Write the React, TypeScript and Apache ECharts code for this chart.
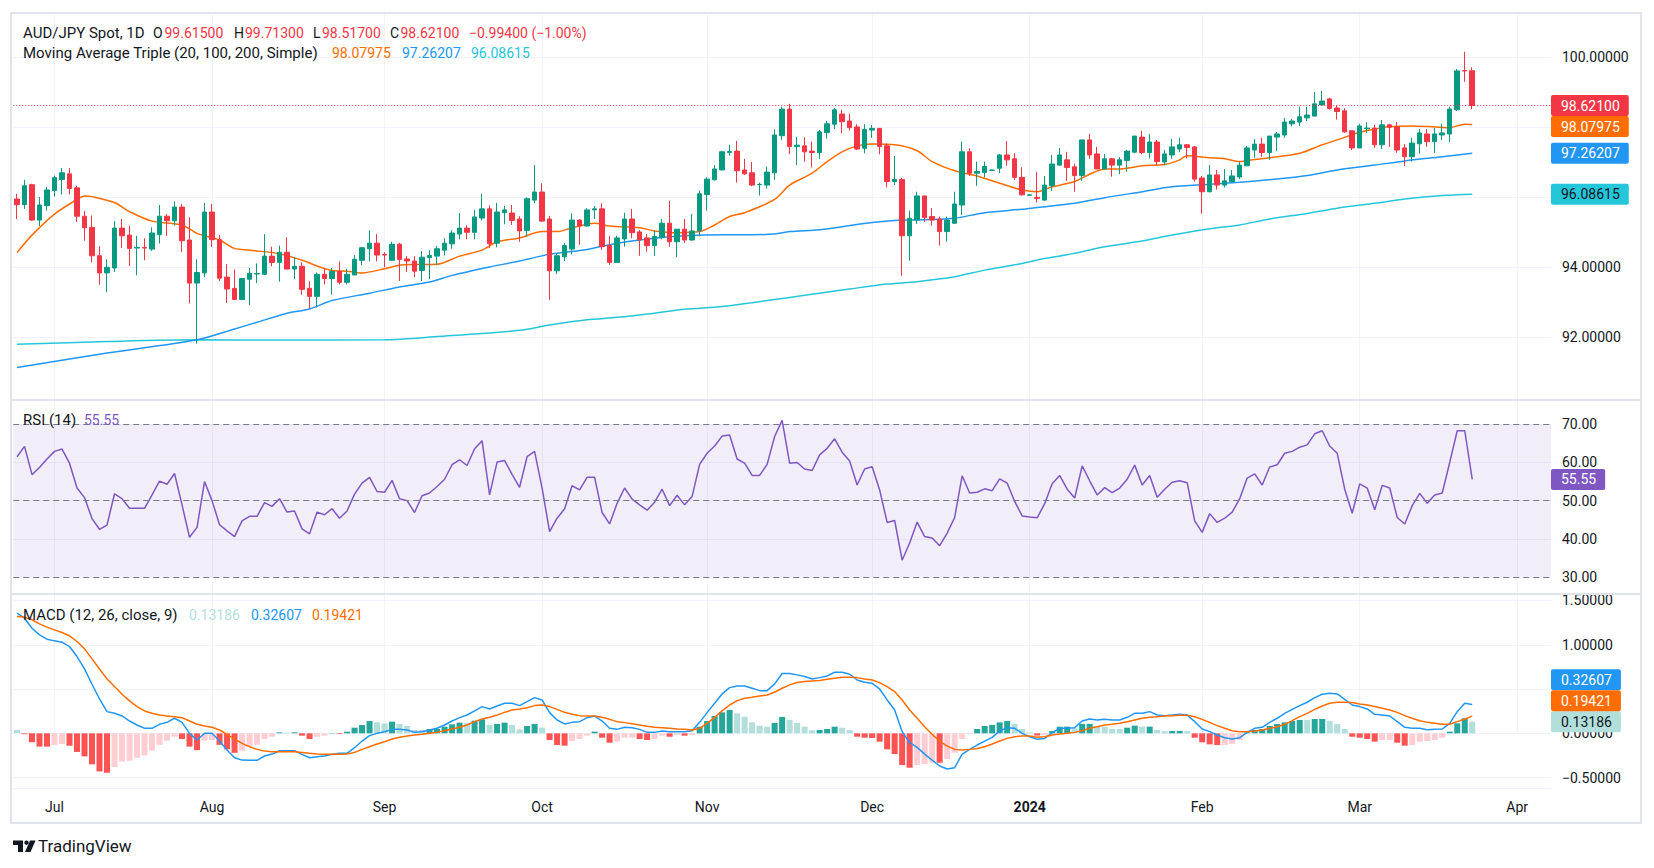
import React, { useEffect, useRef } from "react";
import * as echarts from "echarts";

const FONT = 'Roboto, "Noto Sans", sans-serif';
const TOTAL_CATEGORIES = 205;
const START_DATE = [2023, 5, 26];
const MONTHS = ["Jan", "Feb", "Mar", "Apr", "May", "Jun", "Jul", "Aug", "Sep", "Oct", "Nov", "Dec"];

const opens = [
  95.95, 95.79, 96.36, 95.35, 95.76, 96.19, 96.51, 96.67, 96.27, 95.46,
  95.14, 94.33, 93.84, 93.98, 95.12, 94.92, 94.55, 94.57, 94.52, 94.93,
  95.46, 95.33, 95.72, 94.78, 93.55, 93.84, 95.58, 94.79, 93.72, 93.4,
  93.08, 93.66, 93.81, 93.8, 94.32, 94.14, 94.43, 93.95, 94.03, 93.4,
  93.17, 93.8, 93.68, 93.88, 93.57, 93.78, 94.2, 94.53, 94.69, 94.37,
  94.2, 94.66, 94.24, 94.18, 93.91, 94.28, 94.32, 94.49, 94.67, 94.95,
  95.12, 95.0, 95.41, 95.67, 94.69, 95.56, 95.55, 95.38, 95.05, 95.92,
  96.15, 95.38, 93.9, 94.3, 94.52, 95.35, 95.18, 95.64, 95.67, 94.62,
  94.14, 94.81, 95.38, 95.01, 94.84, 94.62, 94.86, 95.26, 94.73, 95.09,
  94.78, 95.04, 96.08, 96.5, 96.78, 97.28, 97.32, 96.78, 96.7, 96.36,
  96.35, 96.7, 97.76, 98.52, 97.45, 97.47, 97.32, 97.28, 97.85, 98.09,
  98.38, 98.18, 98.01, 97.4, 97.92, 97.97, 97.47, 96.45, 96.51, 94.9,
  95.35, 96.04, 95.45, 95.38, 95.02, 95.26, 95.78, 97.3, 96.69, 96.71,
  96.77, 96.83, 97.21, 97.1, 96.57, 96.06, 96.0, 95.92, 96.33, 96.92,
  97.07, 96.87, 96.62, 97.64, 97.24, 96.81, 97.1, 96.92, 97.05, 97.29,
  97.72, 97.28, 97.58, 97.01, 97.21, 97.38, 97.5, 97.44, 96.55, 96.16,
  96.64, 96.35, 96.45, 96.58, 96.9, 97.35, 97.52, 97.28, 97.72, 97.78,
  98.1, 98.15, 98.27, 98.32, 98.64, 98.81, 98.55, 98.47, 97.9, 97.41,
  97.96, 97.98, 97.5, 98.07, 98.01, 97.41, 97.16, 97.53, 97.81, 97.59,
  97.78, 97.81, 98.5, 99.62, 99.615,
];

const closes = [
  95.79, 96.33, 95.35, 95.78, 96.21, 96.56, 96.7, 96.25, 95.46, 95.13,
  94.33, 93.84, 94.0, 95.12, 94.9, 94.54, 94.57, 94.55, 94.98, 95.46,
  95.33, 95.72, 94.76, 93.55, 93.85, 95.58, 94.79, 93.69, 93.38, 93.08,
  93.68, 93.83, 93.82, 94.32, 94.14, 94.43, 93.95, 94.03, 93.37, 93.17,
  93.8, 93.68, 93.88, 93.57, 93.8, 94.23, 94.56, 94.69, 94.35, 94.35,
  94.66, 94.22, 94.18, 93.89, 94.29, 94.34, 94.53, 94.69, 94.98, 95.12,
  95.0, 95.44, 95.67, 94.67, 95.58, 95.64, 95.34, 95.04, 95.96, 96.15,
  95.32, 93.9, 94.33, 94.62, 95.35, 95.18, 95.64, 95.67, 94.59, 94.14,
  94.84, 95.38, 94.99, 94.78, 94.62, 94.88, 95.26, 94.73, 95.09, 94.78,
  95.04, 96.1, 96.52, 96.81, 97.3, 97.31, 96.76, 96.67, 96.35, 96.37,
  96.72, 97.78, 98.52, 97.45, 97.49, 97.3, 97.28, 97.87, 98.1, 98.5,
  98.16, 97.99, 97.38, 97.94, 97.97, 97.45, 96.45, 96.51, 94.9, 95.4,
  96.04, 95.42, 95.35, 95.02, 95.35, 95.81, 97.3, 96.69, 96.74, 96.88,
  96.78, 97.21, 97.07, 96.57, 96.07, 96.07, 95.97, 96.35, 96.95, 97.21,
  96.85, 96.62, 97.64, 97.21, 96.81, 97.1, 96.92, 97.07, 97.32, 97.75,
  97.28, 97.58, 97.02, 97.24, 97.44, 97.5, 97.42, 96.52, 96.16, 96.64,
  96.35, 96.47, 96.61, 96.92, 97.41, 97.52, 97.28, 97.75, 97.81, 98.15,
  98.18, 98.3, 98.35, 98.67, 98.75, 98.54, 98.45, 97.87, 97.41, 98.04,
  97.98, 97.5, 98.07, 98.0, 97.35, 97.16, 97.55, 97.84, 97.59, 97.81,
  97.84, 98.52, 99.61, 99.61, 98.621,
];

const highs = [
  96.1, 96.5, 96.39, 96.01, 96.3, 96.62, 96.84, 96.84, 96.33, 95.61,
  95.48, 94.6, 94.23, 95.32, 95.38, 95.18, 94.9, 94.83, 95.14, 95.78,
  95.52, 95.88, 95.81, 95.43, 94.23, 95.84, 95.81, 94.92, 94.09, 93.94,
  93.69, 93.98, 94.11, 94.95, 94.59, 94.62, 94.86, 94.29, 94.14, 93.6,
  93.85, 93.96, 93.98, 94.17, 93.96, 94.35, 94.58, 95.06, 94.95, 94.43,
  94.73, 94.7, 94.32, 94.32, 94.46, 94.49, 94.61, 94.83, 95.06, 95.55,
  95.2, 95.64, 96.1, 95.77, 95.84, 95.76, 95.78, 95.46, 96.0, 96.92,
  96.4, 95.47, 94.4, 94.69, 95.54, 95.37, 95.69, 95.75, 95.83, 94.9,
  94.9, 95.56, 95.67, 95.07, 94.95, 95.04, 95.38, 95.9, 95.09, 95.38,
  95.52, 96.19, 96.57, 96.92, 97.33, 97.5, 97.61, 97.1, 97.01, 96.42,
  96.88, 97.94, 98.59, 98.67, 97.73, 97.72, 97.59, 97.92, 98.18, 98.56,
  98.5, 98.38, 98.09, 98.09, 98.07, 97.97, 97.54, 97.18, 96.56, 95.62,
  96.16, 96.04, 95.69, 95.45, 95.45, 96.16, 97.59, 97.4, 97.02, 97.02,
  96.79, 97.24, 97.61, 97.26, 96.86, 96.08, 96.73, 96.61, 97.21, 97.41,
  97.3, 96.96, 97.64, 97.81, 97.44, 97.24, 97.13, 97.15, 97.35, 97.75,
  97.9, 97.81, 97.64, 97.35, 97.67, 97.7, 97.52, 97.47, 96.61, 96.92,
  96.78, 96.81, 96.78, 97.02, 97.47, 97.67, 97.7, 97.75, 97.87, 98.27,
  98.24, 98.59, 98.59, 99.01, 99.04, 98.84, 98.64, 98.55, 97.9, 98.1,
  98.15, 98.07, 98.21, 98.1, 98.15, 97.52, 97.7, 97.95, 97.95, 97.98,
  98.1, 98.59, 99.67, 100.16, 99.713,
];

const lows = [
  95.38, 95.67, 95.33, 95.18, 95.62, 96.02, 96.08, 96.08, 95.3, 94.76,
  94.14, 93.5, 93.29, 93.87, 94.55, 94.04, 93.77, 94.2, 94.47, 94.68,
  94.9, 95.19, 94.44, 92.97, 91.82, 93.72, 94.58, 93.61, 92.98, 93.06,
  93.06, 92.92, 93.55, 93.78, 94.03, 93.59, 93.95, 93.66, 93.22, 92.82,
  92.85, 93.51, 93.22, 93.51, 93.51, 93.78, 94.06, 94.17, 94.17, 94.0,
  94.2, 93.61, 93.87, 93.72, 93.61, 93.66, 94.06, 94.34, 94.53, 94.8,
  94.8, 94.8, 95.34, 94.55, 94.57, 95.23, 95.21, 94.73, 94.88, 95.83,
  95.3, 93.07, 93.81, 94.18, 94.37, 94.64, 95.16, 95.38, 94.5, 94.07,
  94.14, 94.59, 94.83, 94.33, 94.45, 94.33, 94.8, 94.59, 94.29, 94.7,
  94.76, 94.88, 95.62, 96.48, 96.78, 97.19, 96.42, 96.64, 96.32, 96.05,
  96.25, 96.5, 97.64, 97.24, 96.92, 97.02, 96.85, 97.1, 97.68, 97.95,
  97.83, 97.9, 97.35, 97.26, 97.7, 97.23, 96.28, 96.35, 93.76, 94.19,
  95.24, 95.3, 95.19, 94.62, 94.73, 95.24, 95.5, 96.61, 96.33, 96.57,
  96.76, 96.69, 96.9, 96.5, 96.05, 96.05, 95.85, 95.9, 96.18, 96.9,
  96.47, 96.16, 96.47, 97.1, 96.81, 96.79, 96.59, 96.66, 96.73, 97.26,
  97.23, 97.11, 96.92, 96.92, 97.1, 97.29, 97.11, 96.45, 95.53, 96.14,
  96.22, 96.28, 96.45, 96.52, 96.9, 97.13, 97.16, 97.07, 97.32, 97.7,
  98.03, 98.04, 98.18, 98.32, 98.61, 98.51, 98.22, 97.84, 97.35, 97.41,
  97.84, 97.41, 97.38, 97.44, 97.27, 96.9, 97.02, 97.25, 97.44, 97.27,
  97.64, 97.58, 98.47, 99.3, 98.517,
];

// [bar index, value]
const ma20Points = [
  [0, 94.42], [2, 94.92], [5, 95.52], [8, 95.94], [9, 96.04], [10, 96.02], [13, 95.85], [15, 95.59],
  [18, 95.32], [22, 95.21], [24, 94.97], [27, 94.78], [29, 94.54], [31, 94.49], [35, 94.39], [38, 94.2],
  [42, 93.91], [44, 93.89], [46, 93.84], [49, 93.96], [51, 94.06], [53, 94.08], [56, 94.09], [59, 94.32],
  [62, 94.49], [64, 94.73], [67, 94.84], [70, 95.02], [72, 95.02], [74, 95.13], [77, 95.26], [79, 95.18],
  [83, 95.13], [85, 95.04], [88, 94.99], [91, 95.02], [93, 95.21], [95, 95.45], [97, 95.56], [101, 95.94],
  [103, 96.35], [106, 96.69], [108, 97.02], [110, 97.3], [112, 97.47], [114, 97.52], [117, 97.5], [120, 97.33],
  [122, 97.02], [125, 96.76], [128, 96.61], [131, 96.4], [134, 96.21], [136, 96.16], [138, 96.3], [141, 96.45],
  [143, 96.66], [145, 96.81], [147, 96.81], [150, 96.9], [153, 96.94], [155, 97.07], [156, 97.19], [159, 97.13],
  [161, 97.1], [163, 97.02], [165, 97.08], [167, 97.13], [171, 97.26], [174, 97.5], [176, 97.64], [179, 97.86],
  [181, 97.95], [183, 98.02], [186, 98.04], [189, 98.01], [191, 97.99], [193, 98.09], [194, 98.07975],
];
const ma100Points = [
  [0, 91.14], [12, 91.55], [24, 91.93], [29, 92.24], [32, 92.43], [36, 92.69], [39, 92.81], [42, 93.05],
  [47, 93.26], [51, 93.44], [55, 93.58], [58, 93.77], [63, 94.01], [67, 94.18], [71, 94.37], [76, 94.51],
  [80, 94.69], [85, 94.83], [89, 94.9], [94, 94.93], [98, 94.93], [101, 94.95], [103, 95.02], [107, 95.07],
  [110, 95.16], [114, 95.28], [118, 95.35], [123, 95.37], [125, 95.4], [129, 95.56], [134, 95.66], [136, 95.71],
  [141, 95.83], [145, 95.99], [150, 96.16], [154, 96.3], [159, 96.37], [163, 96.43], [168, 96.52], [172, 96.62],
  [176, 96.78], [181, 96.92], [185, 97.04], [190, 97.16], [194, 97.26207],
];
const ma200Points = [
  [0, 91.8], [12, 91.88], [24, 91.93], [35, 91.92], [49, 91.93], [56, 92.02], [67, 92.2], [71, 92.35],
  [76, 92.5], [80, 92.57], [85, 92.69], [89, 92.8], [94, 92.88], [98, 92.99], [103, 93.14], [107, 93.26],
  [111, 93.38], [116, 93.52], [120, 93.59], [125, 93.73], [129, 93.92], [134, 94.11], [136, 94.21], [141, 94.4],
  [145, 94.59], [150, 94.75], [154, 94.92], [159, 95.1], [163, 95.21], [167, 95.38], [172, 95.54], [176, 95.69],
  [181, 95.83], [185, 95.95], [190, 96.05], [194, 96.08615],
];

const rsi = [
  61.5, 64.2, 56.8, 58.7, 60.9, 62.9, 63.5, 59.8, 53.3, 50.8,
  45.3, 42.5, 43.6, 51.8, 50.5, 48.0, 48.0, 48.0, 51.5, 55.1,
  54.3, 57.1, 48.9, 40.4, 43.0, 55.0, 50.0, 43.7, 42.1, 40.6,
  44.7, 45.9, 45.9, 49.5, 48.5, 50.5, 47.0, 47.3, 42.6, 41.3,
  47.0, 46.3, 47.9, 45.4, 47.3, 51.7, 54.6, 56.1, 52.4, 52.2,
  55.3, 50.5, 50.0, 46.9, 51.3, 52.0, 53.7, 55.6, 59.4, 60.7,
  59.2, 63.6, 65.7, 51.5, 60.1, 60.5, 56.9, 53.5, 61.5, 62.9,
  53.3, 41.9, 45.4, 47.9, 53.9, 52.8, 56.1, 56.1, 46.9, 43.9,
  49.3, 53.3, 50.4, 48.9, 47.5, 49.6, 53.0, 48.7, 51.4, 48.9,
  51.1, 59.5, 62.4, 64.3, 66.9, 67.2, 60.9, 59.8, 56.6, 56.6,
  59.5, 66.8, 71.0, 59.8, 60.0, 58.3, 57.9, 62.0, 63.7, 66.2,
  62.7, 60.4, 54.1, 58.3, 58.9, 52.8, 44.3, 44.8, 34.4, 38.9,
  44.4, 40.6, 40.2, 38.2, 41.5, 45.6, 56.5, 52.0, 52.2, 53.1,
  52.6, 55.7, 54.6, 49.8, 46.0, 45.7, 45.5, 49.2, 54.4, 56.6,
  53.0, 50.7, 59.1, 55.2, 51.5, 53.4, 52.1, 53.3, 55.6, 59.3,
  54.1, 56.6, 50.9, 53.0, 54.8, 55.2, 54.7, 44.7, 41.7, 46.6,
  44.3, 45.4, 47.0, 50.5, 55.9, 57.0, 54.1, 58.8, 59.4, 62.4,
  62.9, 64.0, 64.6, 67.5, 68.3, 64.3, 62.4, 53.0, 46.7, 54.4,
  53.3, 47.6, 54.0, 53.3, 45.6, 43.9, 48.7, 51.9, 49.3, 51.5,
  52.0, 60.0, 68.3, 68.3, 55.55,
];

const macdLine = [
  1.357, 1.3, 1.187, 1.112, 1.063, 1.044, 1.029, 0.98, 0.867, 0.727,
  0.554, 0.388, 0.245, 0.226, 0.196, 0.139, 0.094, 0.057, 0.057, 0.102,
  0.124, 0.17, 0.124, 0.0, -0.075, 0.0, 0.0, -0.087, -0.188, -0.275,
  -0.302, -0.305, -0.305, -0.256, -0.234, -0.196, -0.196, -0.196, -0.237, -0.275,
  -0.264, -0.256, -0.237, -0.226, -0.226, -0.162, -0.087, -0.026, 0.0, 0.019,
  0.045, 0.045, 0.038, 0.011, 0.019, 0.038, 0.057, 0.094, 0.139, 0.177,
  0.207, 0.253, 0.302, 0.275, 0.309, 0.339, 0.339, 0.313, 0.358, 0.403,
  0.377, 0.234, 0.151, 0.106, 0.124, 0.132, 0.177, 0.196, 0.139, 0.057,
  0.045, 0.068, 0.064, 0.045, 0.011, 0.011, 0.026, 0.019, 0.019, 0.019,
  0.03, 0.124, 0.234, 0.339, 0.445, 0.516, 0.535, 0.535, 0.509, 0.482,
  0.482, 0.558, 0.675, 0.675, 0.66, 0.641, 0.614, 0.629, 0.648, 0.69,
  0.69, 0.667, 0.603, 0.577, 0.565, 0.501, 0.377, 0.264, 0.019, -0.106,
  -0.158, -0.234, -0.302, -0.369, -0.403, -0.388, -0.234, -0.181, -0.132, -0.087,
  -0.045, 0.026, 0.064, 0.057, 0.0, -0.038, -0.068, -0.057, 0.008, 0.057,
  0.057, 0.064, 0.139, 0.162, 0.151, 0.158, 0.151, 0.151, 0.181, 0.226,
  0.226, 0.245, 0.207, 0.2, 0.207, 0.215, 0.207, 0.132, 0.049, 0.019,
  -0.019, -0.049, -0.064, -0.049, 0.011, 0.057, 0.068, 0.124, 0.17, 0.226,
  0.271, 0.313, 0.351, 0.403, 0.441, 0.452, 0.445, 0.384, 0.32, 0.302,
  0.275, 0.215, 0.207, 0.196, 0.132, 0.068, 0.057, 0.057, 0.041, 0.045,
  0.049, 0.113, 0.245, 0.339, 0.32607,
];

const signalLine = [
  1.319, 1.312, 1.282, 1.236, 1.199, 1.168, 1.138, 1.101, 1.037, 0.954,
  0.841, 0.727, 0.614, 0.528, 0.441, 0.366, 0.302, 0.253, 0.226, 0.207,
  0.196, 0.188, 0.177, 0.139, 0.102, 0.083, 0.068, 0.038, -0.011, -0.064,
  -0.113, -0.151, -0.181, -0.2, -0.207, -0.207, -0.207, -0.207, -0.215, -0.226,
  -0.234, -0.237, -0.237, -0.237, -0.234, -0.215, -0.181, -0.151, -0.121, -0.094,
  -0.064, -0.045, -0.03, -0.019, -0.011, 0.0, 0.011, 0.03, 0.049, 0.068,
  0.094, 0.132, 0.162, 0.181, 0.207, 0.237, 0.264, 0.275, 0.29, 0.313,
  0.32, 0.302, 0.271, 0.237, 0.215, 0.2, 0.196, 0.196, 0.181, 0.158,
  0.132, 0.121, 0.109, 0.094, 0.079, 0.068, 0.064, 0.057, 0.049, 0.045,
  0.038, 0.057, 0.113, 0.181, 0.253, 0.32, 0.369, 0.396, 0.407, 0.422,
  0.433, 0.464, 0.509, 0.547, 0.573, 0.584, 0.592, 0.596, 0.611, 0.622,
  0.633, 0.633, 0.629, 0.614, 0.603, 0.573, 0.528, 0.471, 0.377, 0.264,
  0.17, 0.075, -0.011, -0.087, -0.143, -0.181, -0.188, -0.181, -0.17, -0.151,
  -0.121, -0.087, -0.057, -0.038, -0.03, -0.03, -0.045, -0.038, -0.019, -0.008,
  0.0, 0.011, 0.03, 0.057, 0.075, 0.094, 0.102, 0.113, 0.132, 0.151,
  0.17, 0.181, 0.188, 0.196, 0.2, 0.204, 0.204, 0.188, 0.158, 0.124,
  0.087, 0.057, 0.03, 0.019, 0.019, 0.026, 0.038, 0.057, 0.075, 0.102,
  0.143, 0.188, 0.226, 0.271, 0.309, 0.339, 0.351, 0.351, 0.347, 0.332,
  0.32, 0.302, 0.283, 0.264, 0.237, 0.2, 0.17, 0.143, 0.124, 0.113,
  0.102, 0.102, 0.132, 0.162, 0.19421,
];

const histogram = [
  0.038, -0.01, -0.1, -0.15, -0.15, -0.13, -0.12, -0.14, -0.21, -0.26,
  -0.35, -0.43, -0.445, -0.38, -0.32, -0.31, -0.275, -0.25, -0.196, -0.13,
  -0.083, -0.038, -0.064, -0.15, -0.19, -0.083, -0.075, -0.13, -0.18, -0.22,
  -0.196, -0.14, -0.13, -0.064, -0.038, 0.011, 0.008, 0.011, -0.026, -0.064,
  -0.038, -0.026, 0.004, -0.008, 0.019, 0.064, 0.094, 0.139, 0.124, 0.113,
  0.132, 0.106, 0.083, 0.038, 0.038, 0.049, 0.05, 0.075, 0.102, 0.121,
  0.118, 0.143, 0.158, 0.094, 0.106, 0.121, 0.094, 0.045, 0.083, 0.106,
  0.064, -0.075, -0.132, -0.139, -0.087, -0.064, -0.026, 0.019, -0.049, -0.106,
  -0.094, -0.049, -0.048, -0.064, -0.075, -0.064, -0.026, -0.038, -0.019, -0.026,
  -0.019, 0.075, 0.139, 0.196, 0.237, 0.264, 0.226, 0.188, 0.124, 0.087,
  0.075, 0.117, 0.185, 0.151, 0.117, 0.075, 0.034, 0.038, 0.049, 0.075,
  0.064, 0.038, -0.038, -0.049, -0.052, -0.094, -0.181, -0.234, -0.358, -0.388,
  -0.358, -0.347, -0.332, -0.332, -0.29, -0.219, -0.064, -0.008, 0.049, 0.083,
  0.094, 0.124, 0.139, 0.106, 0.049, 0.011, -0.025, -0.02, 0.026, 0.075,
  0.076, 0.057, 0.106, 0.107, 0.075, 0.075, 0.049, 0.049, 0.064, 0.087,
  0.075, 0.076, 0.038, 0.026, 0.027, 0.028, 0.026, -0.049, -0.102, -0.124,
  -0.132, -0.131, -0.121, -0.075, 0.011, 0.038, 0.049, 0.083, 0.106, 0.124,
  0.139, 0.151, 0.15, 0.162, 0.163, 0.139, 0.106, 0.049, -0.038, -0.049,
  -0.064, -0.094, -0.075, -0.074, -0.106, -0.139, -0.132, -0.094, -0.087, -0.075,
  -0.049, 0.019, 0.113, 0.17, 0.13186,
];

const N = closes.length;

function buildDates(): string[] {
  const out: string[] = [];
  const d = new Date(Date.UTC(START_DATE[0], START_DATE[1], START_DATE[2]));
  while (out.length < TOTAL_CATEGORIES) {
    const wd = d.getUTCDay();
    if (wd !== 0 && wd !== 6) out.push(d.toISOString().slice(0, 10));
    d.setUTCDate(d.getUTCDate() + 1);
  }
  return out;
}

function sparse(points: number[][]) {
  const arr: (number | null)[] = new Array(N).fill(null);
  points.forEach(([i, v]) => (arr[i] = v));
  return arr;
}

const GRID_LEFT = 13.25;
const GRID_W = 1537.75;
const PANES = [
  { top: 13, height: 387 },
  { top: 400, height: 194 },
  { top: 594, height: 194 },
];

export default function App() {
  const ref = useRef<HTMLDivElement>(null);
  useEffect(() => {
    const chart = echarts.init(ref.current!, null, { renderer: "svg" });
    const dates = buildDates();
    const monthStart = dates.map((d, i) => i > 0 && d.slice(0, 7) !== dates[i - 1].slice(0, 7));

    const xAxes = PANES.map((p, k) => ({
      type: "category",
      gridIndex: k,
      data: dates,
      boundaryGap: true,
      axisLine: { show: false },
      axisTick: {
        show: true,
        inside: true,
        alignWithLabel: true,
        length: p.height,
        interval: (i: number) => monthStart[i],
        lineStyle: { color: "#f0f3fa", width: 1 },
      },
      axisLabel: {
        show: k === 2,
        interval: (i: number) => monthStart[i],
        margin: 12,
        color: "#131722",
        fontSize: 14,
        fontFamily: FONT,
        formatter: (v: string) => {
          const m = parseInt(v.slice(5, 7), 10) - 1;
          return m === 0 ? "{b|" + v.slice(0, 4) + "}" : MONTHS[m];
        },
        rich: { b: { fontWeight: "bold", fontSize: 14, fontFamily: FONT, color: "#131722" } },
      },
      splitLine: { show: false },
    }));

    const near = (v: number, t: number) => Math.abs(v - t) < 1e-6;
    const labelBase = { color: "#131722", fontSize: 14, fontFamily: FONT, margin: 11, showMinLabel: false, showMaxLabel: false };
    const yAxes = [
      {
        type: "value", gridIndex: 0, position: "right", min: 90.209, max: 101.266, minInterval: 2, maxInterval: 2, splitNumber: 5,
        axisLine: { show: false }, axisTick: { show: false },
        axisLabel: { ...labelBase, formatter: (v: number) => (near(v, 96) || near(v, 98) ? "" : v.toFixed(5)) },
        splitLine: { lineStyle: { color: "#f0f3fa" } },
      },
      {
        type: "value", gridIndex: 1, position: "right", min: 25.56, max: 76.35, minInterval: 10, maxInterval: 10, splitNumber: 5,
        axisLine: { show: false }, axisTick: { show: false },
        axisLabel: { ...labelBase, formatter: (v: number) => v.toFixed(2) },
        splitLine: { lineStyle: { color: "#f0f3fa" } },
      },
      {
        type: "value", gridIndex: 2, position: "right", min: -0.617, max: 1.573, minInterval: 0.5, maxInterval: 0.5, splitNumber: 4,
        axisLine: { show: false }, axisTick: { show: false },
        axisLabel: { ...labelBase, formatter: (v: number) => (near(v, 0.5) ? "" : v.toFixed(5).replace("-", "\u2212")) },
        splitLine: { lineStyle: { color: "#f0f3fa" } },
      },
    ];

    const candleData = opens.map((o, i) => [o, closes[i], lows[i], highs[i]]);
    const histData = histogram.map((v, i) => {
      const prev = i > 0 ? histogram[i - 1] : Infinity;
      const c = v >= 0 ? (v > prev ? "#26a69a" : "#b2dfdb") : v > prev ? "#ffcdd2" : "#ff5252";
      return { value: v, itemStyle: { color: c } };
    });

    const maLine = (name: string, pts: number[][], color: string) => ({
      name, type: "line", xAxisIndex: 0, yAxisIndex: 0, data: sparse(pts), connectNulls: true,
      showSymbol: false, symbol: "none", smooth: 0.3, lineStyle: { color, width: 1.5 }, z: 3, silent: true,
    });

    const option: any = {
      animation: false,
      backgroundColor: "#ffffff",
      grid: PANES.map((p) => ({ left: GRID_LEFT, top: p.top, width: GRID_W, height: p.height })),
      xAxis: xAxes,
      yAxis: yAxes,
      series: [
        {
          name: "AUD/JPY", type: "candlestick", xAxisIndex: 0, yAxisIndex: 0, data: candleData, barWidth: 5,
          itemStyle: { color: "#089981", color0: "#f23645", borderColor: "#089981", borderColor0: "#f23645", borderWidth: 1 },
          markLine: {
            silent: true, symbol: ["none", "none"],
            data: [{ yAxis: closes[N - 1] }],
            label: { show: false },
            lineStyle: { color: "#f23645", type: [1, 2], width: 1 },
          },
          z: 4,
        },
        maLine("MA200", ma200Points, "#26c6da"),
        maLine("MA100", ma100Points, "#2196f3"),
        maLine("MA20", ma20Points, "#ff6d00"),
        {
          name: "RSI", type: "line", xAxisIndex: 1, yAxisIndex: 1, data: rsi, showSymbol: false, symbol: "none",
          lineStyle: { color: "#7e57c2", width: 1.5 }, z: 4, silent: true,
          markArea: { silent: true, itemStyle: { color: "rgba(126,87,194,0.1)" }, data: [[{ yAxis: 30 }, { yAxis: 70 }]] },
          markLine: {
            silent: true, symbol: ["none", "none"], label: { show: false },
            lineStyle: { color: "#787b86", type: [6, 4], width: 1 },
            data: [{ yAxis: 70 }, { yAxis: 50 }, { yAxis: 30 }],
          },
        },
        {
          name: "Histogram", type: "bar", xAxisIndex: 2, yAxisIndex: 2, data: histData, barWidth: 6, silent: true, z: 2,
        },
        {
          name: "MACD", type: "line", xAxisIndex: 2, yAxisIndex: 2, data: macdLine, showSymbol: false, symbol: "none",
          lineStyle: { color: "#2196f3", width: 1.5 }, z: 4, silent: true,
        },
        {
          name: "Signal", type: "line", xAxisIndex: 2, yAxisIndex: 2, data: signalLine, showSymbol: false, symbol: "none",
          lineStyle: { color: "#ff6d00", width: 1.5 }, z: 4, silent: true,
        },
      ],
    };
    chart.setOption(option);

    // price-scale tags, positioned through the axes' scales
    const last = (pts: number[][]) => pts[pts.length - 1][1];
    const H = 21;
    const panesTags = [
      [
        { axis: 0, value: closes[N - 1], digits: 5, bg: "#f23645", fg: "#ffffff", anchor: true },
        { axis: 0, value: last(ma20Points), digits: 5, bg: "#ff6d00", fg: "#ffffff" },
        { axis: 0, value: last(ma100Points), digits: 5, bg: "#2196f3", fg: "#ffffff" },
        { axis: 0, value: last(ma200Points), digits: 5, bg: "#26c6da", fg: "#131722" },
      ],
      [{ axis: 1, value: rsi[N - 1], digits: 2, bg: "#7e57c2", fg: "#ffffff", anchor: true }],
      [
        { axis: 2, value: histogram[N - 1], digits: 5, bg: "#b2dfdb", fg: "#131722", anchor: true },
        { axis: 2, value: macdLine[N - 1], digits: 5, bg: "#2196f3", fg: "#ffffff" },
        { axis: 2, value: signalLine[N - 1], digits: 5, bg: "#ff6d00", fg: "#ffffff" },
      ],
    ];
    const tagGraphics: any[] = [];
    panesTags.forEach((tags: any[]) => {
      tags.forEach((t) => (t.y = chart.convertToPixel({ yAxisIndex: t.axis } as any, t.value) as number));
      const anchor = tags.find((t) => t.anchor);
      const above = tags.filter((t) => t !== anchor && t.y <= anchor.y).sort((a, b) => b.y - a.y);
      const below = tags.filter((t) => t !== anchor && t.y > anchor.y).sort((a, b) => a.y - b.y);
      let prev = anchor.y;
      above.forEach((t) => { t.y = Math.min(t.y, prev - H); prev = t.y; });
      prev = anchor.y;
      below.forEach((t) => { t.y = Math.max(t.y, prev + H); prev = t.y; });
      tags.forEach((t) => {
        tagGraphics.push({
          type: "text", x: GRID_LEFT + GRID_W, y: t.y, z: 100,
          style: {
            text: t.value.toFixed(t.digits), fill: t.fg, backgroundColor: t.bg, padding: [4, 9, 3, 10], borderRadius: 2,
            font: `14px ${FONT}`, align: "left", verticalAlign: "middle",
          },
        });
      });
    });

    const txt = (x: number, y: number, text: string, fill: string, size = 14) => ({
      type: "text", x, y, z: 100,
      style: { text, fill, font: `${size}px ${FONT}`, align: "left", verticalAlign: "middle" },
    });
    const dark = "#131722";
    const red = "#f23645";
    const staticGraphics: any[] = [
      { type: "rect", z: 90, shape: { x: 11, y: 13, width: 1630, height: 810 }, style: { fill: "none", stroke: "#e0e3eb", lineWidth: 2 } },
      { type: "line", z: 90, shape: { x1: 11, y1: 400, x2: 1641, y2: 400 }, style: { stroke: "#e0e3eb", lineWidth: 2 } },
      { type: "line", z: 90, shape: { x1: 11, y1: 594, x2: 1641, y2: 594 }, style: { stroke: "#e0e3eb", lineWidth: 2 } },
      txt(23, 33, "AUD/JPY Spot, 1D", dark, 15),
      txt(153, 33, "O", dark), txt(164.5, 33, opens[N - 1].toFixed(5), red),
      txt(234, 33, "H", dark), txt(245, 33, highs[N - 1].toFixed(5), red),
      txt(313, 33, "L", dark), txt(322, 33, lows[N - 1].toFixed(5), red),
      txt(390, 33, "C", dark), txt(400.5, 33, closes[N - 1].toFixed(5), red),
      txt(469, 33, "\u22120.99400 (\u22121.00%)", red),
      txt(23, 53, "Moving Average Triple (20, 100, 200, Simple)", dark, 15),
      txt(332, 53, last(ma20Points).toFixed(5), "#ff6d00"),
      txt(402, 53, last(ma100Points).toFixed(5), "#2196f3"),
      txt(471, 53, last(ma200Points).toFixed(5), "#26c6da"),
      txt(23, 420, "RSI (14)", dark, 15),
      txt(84, 420, rsi[N - 1].toFixed(2), "#7e57c2"),
      txt(23, 615, "MACD (12, 26, close, 9)", dark, 15),
      txt(189, 615, histogram[N - 1].toFixed(5), "#b2dfdb"),
      txt(251, 615, macdLine[N - 1].toFixed(5), "#2196f3"),
      txt(312, 615, signalLine[N - 1].toFixed(5), "#ff6d00"),
      { type: "polygon", z: 100, shape: { points: [[13, 840.5], [23, 840.5], [23, 852], [18, 852], [18, 845], [13, 845]] }, style: { fill: dark } },
      { type: "circle", z: 100, shape: { cx: 26.5, cy: 842.7, r: 2.2 }, style: { fill: dark } },
      { type: "polygon", z: 100, shape: { points: [[30, 840.5], [35.5, 840.5], [30.5, 852], [25, 852]] }, style: { fill: dark } },
      txt(38, 846, "TradingView", dark, 17),
    ];

    chart.setOption({ graphic: [...staticGraphics, ...tagGraphics] });
    return () => chart.dispose();
  }, []);
  return (
    <div
      ref={ref}
      style={{ position: "fixed", left: 0, top: 0, width: 1654, height: 868, background: "#ffffff" }}
    />
  );
}
